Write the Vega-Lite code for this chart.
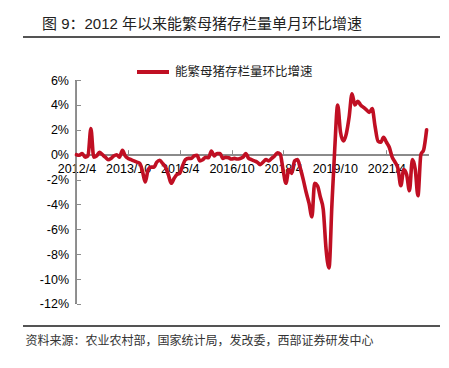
{
  "$schema": "https://vega.github.io/schema/vega-lite/v6.json",
  "width": 417,
  "height": 289,
  "autosize": {"type": "none"},
  "padding": {"left": 23, "top": 37, "right": 9, "bottom": 42},
  "background": "white",
  "config": {
    "view": {"stroke": null},
    "font": "Liberation Sans, Noto Sans CJK SC, sans-serif",
    "axis": {"labelOverlap": false}
  },
  "title": {
    "text": "图 9：2012 年以来能繁母猪存栏量单月环比增速",
    "anchor": "start",
    "frame": "group",
    "dx": 19,
    "offset": -10,
    "baseline": "bottom",
    "fontSize": 15,
    "fontWeight": "normal",
    "color": "#222222",
    "font": "Liberation Sans, Noto Sans CJK SC, sans-serif"
  },
  "data": {
    "values": [
      {"d": "2012-04", "v": 0.0}, {"d": "2012-05", "v": -0.05}, {"d": "2012-06", "v": 0.1}, {"d": "2012-07", "v": -0.2},
      {"d": "2012-08", "v": -0.1}, {"d": "2012-09", "v": 2.1}, {"d": "2012-10", "v": -0.2}, {"d": "2012-11", "v": -0.1},
      {"d": "2012-12", "v": 0.2}, {"d": "2013-01", "v": 0.0}, {"d": "2013-02", "v": -0.2}, {"d": "2013-03", "v": -0.4},
      {"d": "2013-04", "v": -0.3}, {"d": "2013-05", "v": -0.1}, {"d": "2013-06", "v": 0.0}, {"d": "2013-07", "v": -0.2},
      {"d": "2013-08", "v": 0.35}, {"d": "2013-09", "v": -0.1}, {"d": "2013-10", "v": -0.3}, {"d": "2013-11", "v": -0.4},
      {"d": "2013-12", "v": -0.5}, {"d": "2014-01", "v": -0.6}, {"d": "2014-02", "v": -0.7}, {"d": "2014-03", "v": -1.3},
      {"d": "2014-04", "v": -2.2}, {"d": "2014-05", "v": -1.2}, {"d": "2014-06", "v": -1.0}, {"d": "2014-07", "v": -1.0},
      {"d": "2014-08", "v": -0.6}, {"d": "2014-09", "v": -0.45}, {"d": "2014-10", "v": -0.7}, {"d": "2014-11", "v": -1.0},
      {"d": "2014-12", "v": -1.6}, {"d": "2015-01", "v": -2.3}, {"d": "2015-02", "v": -1.9}, {"d": "2015-03", "v": -1.6},
      {"d": "2015-04", "v": -1.5}, {"d": "2015-05", "v": -0.9}, {"d": "2015-06", "v": -0.4}, {"d": "2015-07", "v": -0.3},
      {"d": "2015-08", "v": -0.3}, {"d": "2015-09", "v": -0.1}, {"d": "2015-10", "v": -0.05}, {"d": "2015-11", "v": -0.5},
      {"d": "2015-12", "v": -0.4}, {"d": "2016-01", "v": -0.2}, {"d": "2016-02", "v": -0.25}, {"d": "2016-03", "v": 0.3},
      {"d": "2016-04", "v": -0.1}, {"d": "2016-05", "v": 0.1}, {"d": "2016-06", "v": 0.1}, {"d": "2016-07", "v": -0.3},
      {"d": "2016-08", "v": -0.2}, {"d": "2016-09", "v": -0.25}, {"d": "2016-10", "v": -0.35}, {"d": "2016-11", "v": -0.3},
      {"d": "2016-12", "v": -0.35}, {"d": "2017-01", "v": -0.3}, {"d": "2017-02", "v": -0.2}, {"d": "2017-03", "v": 0.1},
      {"d": "2017-04", "v": -0.3}, {"d": "2017-05", "v": -0.4}, {"d": "2017-06", "v": -0.5}, {"d": "2017-07", "v": -0.6},
      {"d": "2017-08", "v": -0.8}, {"d": "2017-09", "v": -0.6}, {"d": "2017-10", "v": -0.4}, {"d": "2017-11", "v": -0.5},
      {"d": "2017-12", "v": -0.3}, {"d": "2018-01", "v": -0.1}, {"d": "2018-02", "v": 0.15}, {"d": "2018-03", "v": 0.05},
      {"d": "2018-04", "v": -1.2}, {"d": "2018-05", "v": -2.3}, {"d": "2018-06", "v": -1.2}, {"d": "2018-07", "v": -1.5},
      {"d": "2018-08", "v": -0.5}, {"d": "2018-09", "v": -0.4}, {"d": "2018-10", "v": -1.1}, {"d": "2018-11", "v": -2.0},
      {"d": "2018-12", "v": -3.0}, {"d": "2019-01", "v": -3.9}, {"d": "2019-02", "v": -5.0}, {"d": "2019-03", "v": -2.3},
      {"d": "2019-04", "v": -2.5}, {"d": "2019-05", "v": -3.4}, {"d": "2019-06", "v": -4.4}, {"d": "2019-07", "v": -7.6},
      {"d": "2019-08", "v": -9.1}, {"d": "2019-09", "v": -4.0}, {"d": "2019-10", "v": 0.5}, {"d": "2019-11", "v": 4.0},
      {"d": "2019-12", "v": 1.8}, {"d": "2020-01", "v": 1.1}, {"d": "2020-02", "v": 1.7}, {"d": "2020-03", "v": 3.0},
      {"d": "2020-04", "v": 4.9}, {"d": "2020-05", "v": 4.0}, {"d": "2020-06", "v": 4.3}, {"d": "2020-07", "v": 4.0},
      {"d": "2020-08", "v": 3.8}, {"d": "2020-09", "v": 3.6}, {"d": "2020-10", "v": 3.4}, {"d": "2020-11", "v": 3.7},
      {"d": "2020-12", "v": 2.3}, {"d": "2021-01", "v": 1.1}, {"d": "2021-02", "v": 1.0}, {"d": "2021-03", "v": 1.4},
      {"d": "2021-04", "v": 1.0}, {"d": "2021-05", "v": 0.6}, {"d": "2021-06", "v": -0.2}, {"d": "2021-07", "v": -0.6},
      {"d": "2021-08", "v": -1.1}, {"d": "2021-09", "v": -2.5}, {"d": "2021-10", "v": -1.2}, {"d": "2021-11", "v": -1.6},
      {"d": "2021-12", "v": -2.9}, {"d": "2022-01", "v": -0.4}, {"d": "2022-02", "v": -1.2}, {"d": "2022-03", "v": -3.3},
      {"d": "2022-04", "v": 0.0}, {"d": "2022-05", "v": 0.4}, {"d": "2022-06", "v": 2.0}
    ]
  },
  "layer": [
    {
      "mark": {"type": "rule", "color": "#555555", "strokeWidth": 1},
      "encoding": {"y": {"datum": 9.46, "type": "quantitative", "scale": {"domain": [-13.77, 9.46], "nice": false, "zero": false}}}
    },
    {
      "mark": {"type": "rule", "color": "#555555", "strokeWidth": 1},
      "encoding": {"y": {"datum": -13.77, "type": "quantitative"}}
    },
    {
      "mark": {"type": "rule", "color": "#8c8c8c", "strokeWidth": 1},
      "encoding": {
        "x": {"datum": {"year": 2012, "month": 4, "date": 1, "utc": true}, "type": "temporal"},
        "y": {"datum": -12, "type": "quantitative"},
        "y2": {"datum": 6}
      }
    },
    {
      "mark": {"type": "rule", "color": "#8c8c8c", "strokeWidth": 1},
      "encoding": {
        "x": {"datum": {"year": 2012, "month": 4, "date": 1, "utc": true}, "type": "temporal"},
        "x2": {"datum": {"year": 2022, "month": 6, "date": 20, "utc": true}},
        "y": {"datum": 0, "type": "quantitative"}
      }
    },
    {
      "mark": {"type": "line", "interpolate": "monotone", "strokeWidth": 3.6, "strokeCap": "round", "strokeJoin": "round"},
      "encoding": {
        "x": {
          "field": "d",
          "type": "temporal",
          "scale": {"type": "utc", "domain": [{"year": 2010, "month": 9, "date": 12, "utc": true}, {"year": 2022, "month": 10, "date": 21, "utc": true}], "nice": false},
          "axis": {
            "values": [
              {"year": 2012, "month": 4, "date": 1, "utc": true},
              {"year": 2013, "month": 10, "date": 1, "utc": true},
              {"year": 2015, "month": 4, "date": 1, "utc": true},
              {"year": 2016, "month": 10, "date": 1, "utc": true},
              {"year": 2018, "month": 4, "date": 1, "utc": true},
              {"year": 2019, "month": 10, "date": 1, "utc": true},
              {"year": 2021, "month": 4, "date": 1, "utc": true}
            ],
            "tickCount": 30,
            "labelExpr": "utcyear(datum.value) + '/' + (utcmonth(datum.value) + 1)",
            "offset": -171.3,
            "domain": false,
            "grid": false,
            "tickSize": -5,
            "tickColor": "#8c8c8c",
            "labelFontSize": 12.5,
            "labelColor": "#000000",
            "labelPadding": 13,
            "labelFlush": false,
            "labelOverlap": false,
            "title": "资料来源：农业农村部，国家统计局，发改委，西部证券研发中心",
            "titleX": 2,
            "titleY": 186,
            "titleAlign": "left",
            "titleAnchor": null,
            "titleBaseline": "middle",
            "titleFontSize": 12,
            "titleFontWeight": "normal",
            "titleColor": "#333333"
          }
        },
        "y": {
          "field": "v",
          "type": "quantitative",
          "axis": {
            "values": [-12, -10, -8, -6, -4, -2, 0, 2, 4, 6],
            "tickCount": 30,
            "labelExpr": "datum.value + '%'",
            "offset": -53.5,
            "domain": false,
            "grid": false,
            "tickSize": -4,
            "tickColor": "#8c8c8c",
            "labelFontSize": 12.5,
            "labelColor": "#000000",
            "labelPadding": 12,
            "labelOverlap": false,
            "labelFlush": false,
            "title": null
          }
        },
        "color": {
          "datum": "能繁母猪存栏量环比增速",
          "type": "nominal",
          "scale": {"range": ["#C00F23"]},
          "legend": {
            "orient": "none",
            "legendX": 112,
            "legendY": 17,
            "title": null,
            "symbolType": "stroke",
            "symbolSize": 1024,
            "symbolStrokeWidth": 4,
            "labelFontSize": 12.5,
            "labelColor": "#222222",
            "labelFont": "Noto Sans CJK SC",
            "labelOffset": 4
          }
        }
      }
    }
  ]
}
